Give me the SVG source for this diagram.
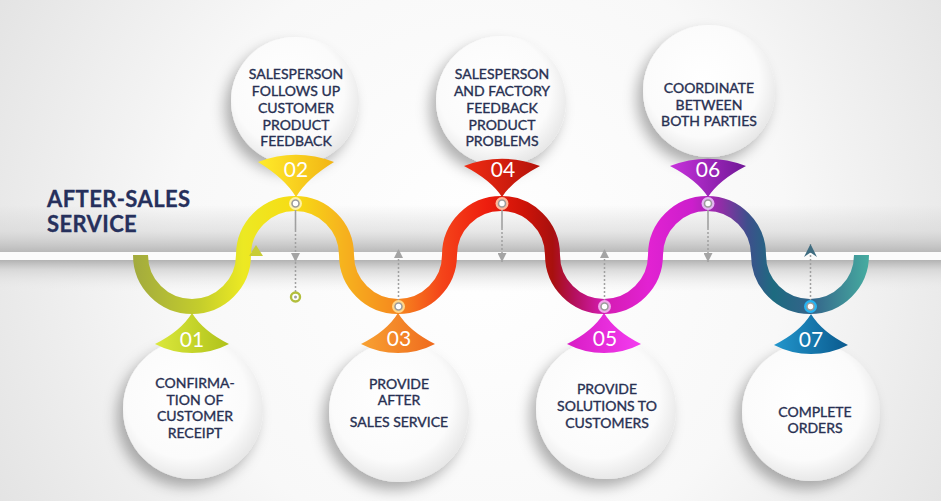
<svg xmlns="http://www.w3.org/2000/svg" width="941" height="501" viewBox="0 0 941 501">
<defs>
  <radialGradient id="bg" cx="480" cy="250" r="560" gradientUnits="userSpaceOnUse">
    <stop offset="0" stop-color="#ffffff"/>
    <stop offset="0.55" stop-color="#f8f8f8"/>
    <stop offset="1" stop-color="#e2e2e2"/>
  </radialGradient>
  <linearGradient id="shelfTop" x1="0" y1="0" x2="0" y2="1">
    <stop offset="0" stop-color="#cfcfcf" stop-opacity="0"/>
    <stop offset="0.55" stop-color="#d4d4d4" stop-opacity="0.55"/>
    <stop offset="1" stop-color="#b9b9b9"/>
  </linearGradient>
  <linearGradient id="shelfBot" x1="0" y1="0" x2="0" y2="1">
    <stop offset="0" stop-color="#b2b2b2"/>
    <stop offset="0.3" stop-color="#d4d4d4" stop-opacity="0.85"/>
    <stop offset="1" stop-color="#eeeeee" stop-opacity="0"/>
  </linearGradient>
  <linearGradient id="wave" gradientUnits="userSpaceOnUse" x1="133" y1="0" x2="869" y2="0">
    <stop offset="0" stop-color="#a2aa3e"/>
    <stop offset="0.09" stop-color="#c4cd2c"/>
    <stop offset="0.15" stop-color="#ece923"/>
    <stop offset="0.22" stop-color="#f7dc14"/>
    <stop offset="0.28" stop-color="#f6b61e"/>
    <stop offset="0.36" stop-color="#f6881e"/>
    <stop offset="0.42" stop-color="#f4441a"/>
    <stop offset="0.48" stop-color="#ee1e0e"/>
    <stop offset="0.53" stop-color="#cf1408"/>
    <stop offset="0.57" stop-color="#a8100e"/>
    <stop offset="0.6" stop-color="#b4105e"/>
    <stop offset="0.64" stop-color="#d41cb2"/>
    <stop offset="0.7" stop-color="#e222d2"/>
    <stop offset="0.76" stop-color="#cc1ecc"/>
    <stop offset="0.8" stop-color="#8e2ea6"/>
    <stop offset="0.835" stop-color="#3e4f8c"/>
    <stop offset="0.87" stop-color="#1d6b80"/>
    <stop offset="0.92" stop-color="#34638a"/>
    <stop offset="1" stop-color="#46aca0"/>
  </linearGradient>
  <radialGradient id="cg" cx="0.45" cy="0.42" r="0.6">
    <stop offset="0" stop-color="#ffffff"/>
    <stop offset="0.72" stop-color="#fbfbfb"/>
    <stop offset="1" stop-color="#e6e6e6"/>
  </radialGradient>
  <filter id="sh" x="-40%" y="-40%" width="180%" height="180%">
    <feDropShadow dx="-6" dy="8" stdDeviation="7" flood-color="#000" flood-opacity="0.3"/>
  </filter>
  <linearGradient id="w1" x1="0" y1="0" x2="1" y2="0"><stop offset="0" stop-color="#dbe83c"/><stop offset="1" stop-color="#b0c21a"/></linearGradient>
  <linearGradient id="w2" x1="0" y1="0" x2="1" y2="0"><stop offset="0" stop-color="#ffec2a"/><stop offset="1" stop-color="#f2b414"/></linearGradient>
  <linearGradient id="w3" x1="0" y1="0" x2="1" y2="0"><stop offset="0" stop-color="#f8a232"/><stop offset="1" stop-color="#ef6a1e"/></linearGradient>
  <linearGradient id="w4" x1="0" y1="0" x2="1" y2="0"><stop offset="0" stop-color="#f02c12"/><stop offset="1" stop-color="#b4120a"/></linearGradient>
  <linearGradient id="w5" x1="0" y1="0" x2="1" y2="0"><stop offset="0" stop-color="#d81cc4"/><stop offset="1" stop-color="#f43cf0"/></linearGradient>
  <linearGradient id="w6" x1="0" y1="0" x2="1" y2="0"><stop offset="0" stop-color="#c832dc"/><stop offset="1" stop-color="#701896"/></linearGradient>
  <linearGradient id="w7" x1="0" y1="0" x2="1" y2="0"><stop offset="0" stop-color="#2296cc"/><stop offset="1" stop-color="#0a5a8e"/></linearGradient>
  <marker id="ah" viewBox="0 0 10 10" refX="10" refY="5" markerWidth="9" markerHeight="9" markerUnits="userSpaceOnUse" orient="auto">
    <path d="M0,0 L10,5 L0,10 Z" fill="#a4a4a4"/>
  </marker>
  <marker id="ah7" viewBox="0 0 10 10" refX="10" refY="5" markerWidth="13" markerHeight="13" markerUnits="userSpaceOnUse" orient="auto">
    <path d="M0,0 L10,5 L0,10 L3.5,5 Z" fill="#3f6c80"/>
  </marker>
</defs>
<style>
  .circ { fill: url(#cg); filter: url(#sh); }
  .lbl { font-family: Lato, "Liberation Sans", sans-serif; font-size: 14px; fill: #283052; stroke: #283052; stroke-width: 0.35px; text-anchor: middle; }
  .num { font-family: Lato, "Liberation Sans", sans-serif; font-size: 21px; fill: #ffffff; text-anchor: middle; }
  .title { font-family: Lato, "Liberation Sans", sans-serif; font-weight: bold; font-size: 22px; fill: #26305c; stroke: #26305c; stroke-width: 0.3px; letter-spacing: 0.4px; }
  .dash { stroke: #a0a0a0; stroke-width: 1.5; stroke-dasharray: 2 2; fill: none; }
  .solid { stroke: #a0a0a0; stroke-width: 1.6; fill: none; }
  .ringin { fill: #ffffff; stroke: #9c9c9c; stroke-width: 1.6; }
</style>

<!-- background -->
<rect x="0" y="0" width="941" height="501" fill="url(#bg)"/>
<rect x="0" y="205" width="941" height="47" fill="url(#shelfTop)"/>
<rect x="0" y="252" width="941" height="8" fill="#fbfbfb"/>
<rect x="0" y="260" width="941" height="32" fill="url(#shelfBot)"/>

<text class="title" x="47" y="207">AFTER-SALES</text>
<text class="title" x="47" y="232">SERVICE</text>

<g id="node-02">
  <circle class="circ" cx="295" cy="101" r="64"/>
  <path d="M296,197 Q285,178.5 258,162 A107,107 0 0 1 334,162 Q307,178.5 296,197 Z" fill="url(#w2)"/>
  <text class="num" x="296" y="177">02</text>
  <text class="lbl" x="296" y="79">SALESPERSON<tspan x="296" y="96">FOLLOWS UP</tspan><tspan x="296" y="113">CUSTOMER</tspan><tspan x="296" y="129.5">PRODUCT</tspan><tspan x="296" y="146">FEEDBACK</tspan></text>
</g>
<g id="node-04">
  <circle class="circ" cx="501" cy="101" r="65"/>
  <path d="M502,197 Q491,180 464,166 A107,107 0 0 1 540,166 Q513,180 502,197 Z" fill="url(#w4)"/>
  <text class="num" x="503" y="177">04</text>
  <text class="lbl" x="502" y="79">SALESPERSON<tspan x="502" y="96">AND FACTORY</tspan><tspan x="502" y="113">FEEDBACK</tspan><tspan x="502" y="129.5">PRODUCT</tspan><tspan x="502" y="146">PROBLEMS</tspan></text>
</g>
<g id="node-06">
  <circle class="circ" cx="709" cy="91" r="66"/>
  <path d="M708,197 Q697,180 670,166 A107,107 0 0 1 746,166 Q719,180 708,197 Z" fill="url(#w6)"/>
  <text class="num" x="708" y="177">06</text>
  <text class="lbl" x="709" y="93">COORDINATE<tspan x="709" y="110">BETWEEN</tspan><tspan x="709" y="126">BOTH PARTIES</tspan></text>
</g>
<g id="node-01">
  <circle class="circ" cx="193" cy="409" r="70"/>
  <path d="M192,313 Q181,331 155,344 A80,80 0 0 0 229,344 Q203,331 192,313 Z" fill="url(#w1)"/>
  <text class="num" x="192" y="347">01</text>
  <text class="lbl" x="195" y="388">CONFIRMA-<tspan x="195" y="404.5">TION OF</tspan><tspan x="195" y="421">CUSTOMER</tspan><tspan x="195" y="437.5">RECEIPT</tspan></text>
</g>
<g id="node-03">
  <circle class="circ" cx="399" cy="412" r="70"/>
  <path d="M398,313 Q387,331 361,344 A80,80 0 0 0 435,344 Q409,331 398,313 Z" fill="url(#w3)"/>
  <text class="num" x="399" y="346">03</text>
  <text class="lbl" x="399" y="389">PROVIDE<tspan x="399" y="405">AFTER</tspan><tspan x="399" y="427">SALES SERVICE</tspan></text>
</g>
<g id="node-05">
  <circle class="circ" cx="606" cy="409" r="70"/>
  <path d="M604,313 Q593,331 567,344 A80,80 0 0 0 641,344 Q615,331 604,313 Z" fill="url(#w5)"/>
  <text class="num" x="605" y="346">05</text>
  <text class="lbl" x="607" y="394">PROVIDE<tspan x="607" y="411">SOLUTIONS TO</tspan><tspan x="607" y="428">CUSTOMERS</tspan></text>
</g>
<g id="node-07">
  <circle class="circ" cx="811" cy="412" r="69"/>
  <path d="M811,314 Q800,332 774,345 A80,80 0 0 0 848,345 Q822,332 811,314 Z" fill="url(#w7)"/>
  <text class="num" x="811" y="347">07</text>
  <text class="lbl" x="815" y="417">COMPLETE<tspan x="815" y="433">ORDERS</tspan></text>
</g>

<g id="connectors">
  <path d="M140.5,255 A51.5,51.5 0 0 0 243.5,255 A51.5,51.5 0 0 1 346.5,255 A51.5,51.5 0 0 0 449.5,255 A51.5,51.5 0 0 1 552.5,255 A51.5,51.5 0 0 0 655.5,255 A51.5,51.5 0 0 1 758.5,255 A51.5,51.5 0 0 0 861.5,255" fill="none" stroke="url(#wave)" stroke-width="15"/>
  <path d="M249,256 L256,245 L263,256 Z" fill="#c8cc36"/>
  <!-- 02 -->
  <path class="solid" d="M295.5,208 V230"/>
  <path class="dash" d="M295.5,230 V262" marker-end="url(#ah)"/>
  <path class="dash" d="M295.5,262 V292"/>
  <circle cx="295.5" cy="297" r="4.5" fill="#fff" stroke="#b2be3c" stroke-width="2.4"/>
  <circle cx="295.5" cy="297" r="1.5" fill="#a0a0a0"/>
  <!-- 04 -->
  <path class="solid" d="M502,208 V228"/>
  <path class="dash" d="M502,228 V262" marker-end="url(#ah)"/>
  <!-- 06 -->
  <path class="solid" d="M708,208 V228"/>
  <path class="dash" d="M708,228 V262" marker-end="url(#ah)"/>
  <!-- 03 -->
  <path class="dash" d="M398.5,301 V249" marker-end="url(#ah)"/>
  <!-- 05 -->
  <path class="dash" d="M604.5,301 V249" marker-end="url(#ah)"/>
  <!-- 07 -->
  <path class="dash" d="M810.5,301 V244" marker-end="url(#ah7)"/>
  <!-- rings -->
  <circle cx="295.5" cy="203.5" r="6.5" fill="#fff3a6"/><circle class="ringin" cx="295.5" cy="203.5" r="3.5"/>
  <circle cx="502" cy="203.5" r="6.5" fill="#ffb89a"/><circle class="ringin" cx="502" cy="203.5" r="3.5"/>
  <circle cx="708" cy="203.5" r="6.5" fill="#e4b6f2"/><circle class="ringin" cx="708" cy="203.5" r="3.5"/>
  <circle cx="398.5" cy="306.5" r="6.5" fill="#ffd68a"/><circle class="ringin" cx="398.5" cy="306.5" r="3.5"/>
  <circle cx="604.5" cy="306.5" r="6.5" fill="#f2a8ec"/><circle class="ringin" cx="604.5" cy="306.5" r="3.5"/>
  <circle cx="810.5" cy="306.5" r="6.5" fill="#26b4f2"/><circle class="ringin" cx="810.5" cy="306.5" r="3.5"/>
</g>
</svg>
